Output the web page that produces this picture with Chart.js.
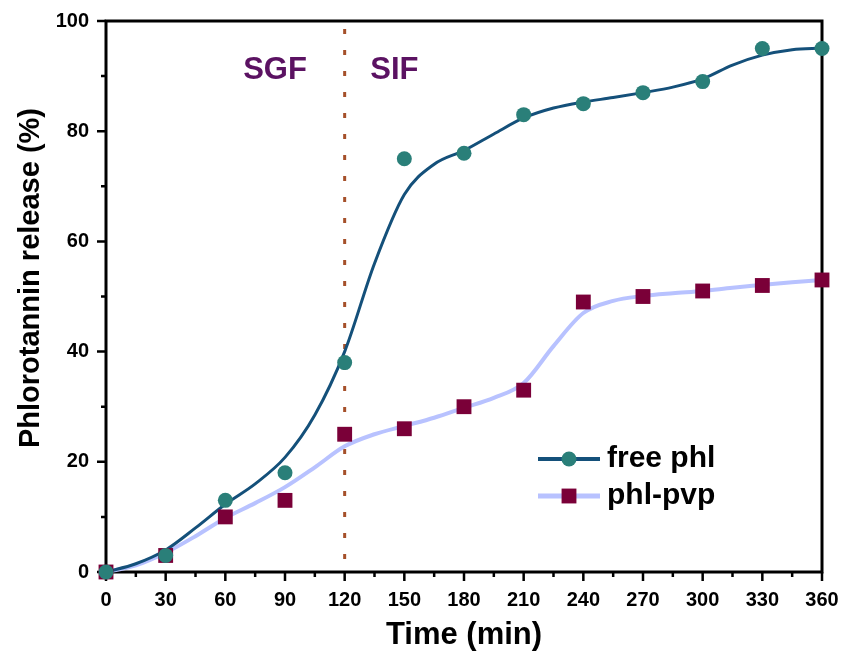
<!DOCTYPE html>
<html>
<head>
<meta charset="utf-8">
<script src="https://cdn.jsdelivr.net/npm/chart.js@4/dist/chart.umd.min.js"></script>
<style>
  html, body { margin: 0; padding: 0; background: #ffffff; }
  #wrap { width: 841px; height: 654px; position: relative; }
</style>
</head>
<body>
<div id="wrap"><canvas id="c" width="841" height="654"></canvas></div>
<script>
// ---- data ----
const timePoints = [0, 30, 60, 90, 120, 150, 180, 210, 240, 270, 300, 330, 360];
const freePhl = [0, 3, 13, 18, 38, 75, 76, 83, 85, 87, 89, 95, 95];
const phlPvp = [0, 3, 10, 13, 25, 26, 30, 33, 49, 50, 51, 52, 53];

// fitted curves, every 15 min
const fitTimes = [0, 15, 30, 45, 60, 75, 90, 105, 120, 135, 150, 165, 180, 195, 210, 225, 240, 255, 270, 285, 300, 315, 330, 345, 360];
const freePhlFit = [0, 1.5, 4, 8, 12.3, 16, 20.8, 28.5, 40, 56, 68.5, 74, 76.5, 79.5, 82.4, 84.2, 85.3, 86.1, 87, 88, 89.5, 92, 93.8, 94.8, 95.1];
const phlPvpFit = [0, 1.2, 3.5, 6.5, 9.8, 12.5, 15.4, 19, 22.8, 25, 26.5, 28, 29.8, 31.6, 34.3, 41, 47, 49.2, 50.1, 50.6, 51, 51.6, 52.1, 52.6, 53];

const seriesNames = ['free phl', 'phl-pvp'];
const phaseLabels = ['SGF', 'SIF'];
const phaseBoundary = 120;
const xTickStep = 30;
const yTickStep = 20;

const FONT = '"Liberation Sans", Arial, Helvetica, sans-serif';
const FREE_LINE = '#14507a';
const FREE_PT = '#2a7f79';
const PVP_LINE = '#b8c2ff';
const PVP_PT = '#7a0038';
const PHASE_COLOR = '#5b1262';

const toXY = (xs, ys) => xs.map((x, i) => ({ x: x, y: ys[i] }));

const decorPlugin = {
  id: 'decor',
  beforeDatasetsDraw(chart) {
    const { ctx, chartArea: a, scales: { x, y } } = chart;
    ctx.save();
    // dotted boundary line
    const bx = x.getPixelForValue(phaseBoundary);
    ctx.strokeStyle = '#a5502a';
    ctx.lineWidth = 3;
    ctx.setLineDash([5, 16]);
    ctx.lineDashOffset = 13;
    ctx.beginPath();
    ctx.moveTo(bx, a.top);
    ctx.lineTo(bx, a.bottom);
    ctx.stroke();
    ctx.setLineDash([]);
    // frame
    ctx.strokeStyle = '#000';
    ctx.lineWidth = 3;
    ctx.strokeRect(a.left, a.top, a.right - a.left, a.bottom - a.top);
    // ticks
    ctx.lineWidth = 2.5;
    ctx.beginPath();
    for (let v = 0; v <= 360; v += xTickStep / 2) {
      const px = x.getPixelForValue(v);
      const len = (v % xTickStep === 0) ? 9 : 5;
      ctx.moveTo(px, a.bottom);
      ctx.lineTo(px, a.bottom + len);
    }
    for (let v = 0; v <= 100; v += yTickStep / 2) {
      const py = y.getPixelForValue(v);
      const len = (v % yTickStep === 0) ? 9 : 5;
      ctx.moveTo(a.left, py);
      ctx.lineTo(a.left - len, py);
    }
    ctx.stroke();
    // phase labels
    ctx.fillStyle = PHASE_COLOR;
    ctx.font = 'bold 31px ' + FONT;
    ctx.textAlign = 'center';
    ctx.textBaseline = 'middle';
    ctx.fillText(phaseLabels[0], x.getPixelForValue(85), y.getPixelForValue(91));
    ctx.fillText(phaseLabels[1], x.getPixelForValue(145), y.getPixelForValue(91));
    // y-axis title
    ctx.fillStyle = '#000';
    ctx.font = 'bold 29px ' + FONT;
    ctx.translate(31, 278);
    ctx.rotate(-Math.PI / 2);
    ctx.fillText('Phlorotannin release (%)', 0, 0);
    ctx.restore();
  },
  afterDraw(chart) {
    const { ctx } = chart;
    ctx.save();
    const items = [
      { name: seriesNames[0], line: FREE_LINE, lw: 4, pt: FREE_PT, style: 'circle', r: 7.5, y: 459 },
      { name: seriesNames[1], line: PVP_LINE, lw: 5, pt: PVP_PT, style: 'rect', r: 10.5, y: 496 }
    ];
    items.forEach(it => {
      ctx.strokeStyle = it.line;
      ctx.lineWidth = it.lw;
      ctx.beginPath();
      ctx.moveTo(538, it.y);
      ctx.lineTo(600, it.y);
      ctx.stroke();
      ctx.fillStyle = it.pt;
      if (it.style === 'circle') {
        ctx.beginPath();
        ctx.arc(569, it.y, it.r, 0, Math.PI * 2);
        ctx.fill();
      } else {
        const s = it.r * Math.SQRT1_2;
        ctx.fillRect(569 - s, it.y - s, 2 * s, 2 * s);
      }
      ctx.fillStyle = '#000';
      ctx.font = 'bold 30px ' + FONT;
      ctx.textAlign = 'left';
      ctx.textBaseline = 'middle';
      ctx.fillText(it.name, 607, it.y);
    });
    ctx.restore();
  }
};

new Chart(document.getElementById('c'), {
  type: 'scatter',
  data: {
    datasets: [
      {
        label: seriesNames[0] + ' fit',
        data: toXY(fitTimes, freePhlFit),
        showLine: true,
        borderColor: FREE_LINE,
        borderWidth: 3,
        pointRadius: 0,
        cubicInterpolationMode: 'monotone',
        clip: false,
        order: 4
      },
      {
        label: seriesNames[1] + ' fit',
        data: toXY(fitTimes, phlPvpFit),
        showLine: true,
        borderColor: PVP_LINE,
        borderWidth: 4,
        pointRadius: 0,
        cubicInterpolationMode: 'monotone',
        clip: false,
        order: 5
      },
      {
        label: seriesNames[1],
        data: toXY(timePoints, phlPvp),
        showLine: false,
        pointStyle: 'rect',
        pointRadius: 10.5,
        backgroundColor: PVP_PT,
        borderColor: PVP_PT,
        borderWidth: 0,
        clip: false,
        order: 2
      },
      {
        label: seriesNames[0],
        data: toXY(timePoints, freePhl),
        showLine: false,
        pointStyle: 'circle',
        pointRadius: 7.5,
        backgroundColor: FREE_PT,
        borderColor: FREE_PT,
        borderWidth: 0,
        clip: false,
        order: 1
      }
    ]
  },
  options: {
    responsive: false,
    animation: false,
    events: [],
    layout: { padding: { left: 0, right: 19, top: 21, bottom: 0 } },
    plugins: { legend: { display: false }, tooltip: { enabled: false } },
    scales: {
      x: {
        type: 'linear',
        min: 0, max: 360,
        grid: { display: false, drawTicks: false },
        border: { display: false },
        ticks: {
          stepSize: xTickStep,
          padding: 16,
          color: '#000',
          font: { family: FONT, size: 20, weight: 'bold' },
          maxRotation: 0, autoSkip: false
        },
        title: {
          display: true,
          text: 'Time (min)',
          color: '#000',
          font: { family: FONT, size: 31, weight: 'bold' },
          padding: { top: 1, bottom: 0 }
        },
        afterFit(s) { s.height = 82; s.paddingLeft = 0; s.paddingRight = 0; }
      },
      y: {
        type: 'linear',
        min: 0, max: 100,
        grid: { display: false, drawTicks: false },
        border: { display: false },
        ticks: {
          stepSize: yTickStep,
          padding: 17,
          color: '#000',
          font: { family: FONT, size: 20, weight: 'bold' }
        },
        afterFit(s) { s.width = 106; s.paddingTop = 0; s.paddingBottom = 0; }
      }
    }
  },
  plugins: [decorPlugin]
});
</script>
</body>
</html>
